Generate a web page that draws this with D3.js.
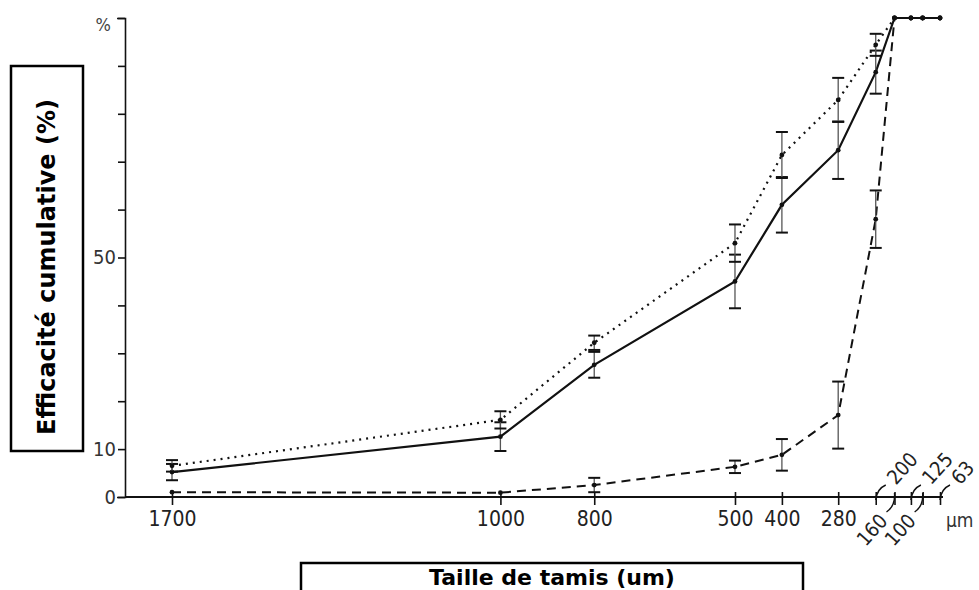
<!DOCTYPE html>
<html>
<head>
<meta charset="utf-8">
<script src="https://cdn.jsdelivr.net/npm/d3@7"></script>
<style>
  body { margin: 0; background: #fff; }
  svg { display: block; }
</style>
</head>
<body>
<div id="chart"></div>
<script>
// sieve sizes (um), left to right
const sizes = [1700, 1000, 800, 500, 400, 280, 200, 160, 125, 100, 63];
const flatLabels = [1700, 1000, 800, 500, 400, 280];
const upLabels = [200, 125, 63];
const downLabels = [160, 100];

// cumulative efficiency (%) and half error bars, three series
const solidVals = [5.2, 12.6, 27.6, 45.0, 61.0, 72.4, 88.7, 100, 100, 100, 100];
const solidErr  = [1.7, 3.0, 2.7, 5.6, 5.8, 6.0, 4.5, 0, 0, 0, 0];
const dottedVals = [6.5, 16.1, 32.2, 53.0, 71.4, 82.9, 94.4, 100, 100, 100, 100];
const dottedErr  = [1.2, 1.8, 1.5, 3.9, 4.8, 4.6, 2.3, 0, 0, 0, 0];
const dashedVals = [1.0, 0.9, 2.5, 6.3, 8.8, 17.1, 58.0, 100, 100, 100, 100];
const dashedErr  = [0, 0, 1.5, 1.3, 3.3, 7.0, 6.0, 0, 0, 0, 0];

const yTicks = [0, 10, 20, 30, 40, 50, 60, 70, 80, 90, 100];
const yLabelled = [0, 10, 50];

const W = 979, H = 590;
const axisFont = "'Liberation Sans Narrow', 'DejaVu Sans Condensed', sans-serif";
const ink = "#111";

const svg = d3.select("#chart")
  .append("svg")
    .attr("width", W)
    .attr("height", H);

const x = d3.scaleLinear().domain([1700, 63]).range([172, 940]);
const y = d3.scaleLinear().domain([0, 100]).range([497, 18]);
const x0 = 125; // y axis position

// y axis
const gy = svg.append("g")
  .attr("transform", "translate(" + x0 + ",0)")
  .call(d3.axisLeft(y).tickValues(yTicks).tickSize(7).tickSizeOuter(8)
    .tickFormat(d => yLabelled.includes(d) ? d : ""));
gy.select(".domain").attr("stroke", ink).attr("stroke-width", 1.6);
gy.selectAll(".tick line").attr("stroke", ink).attr("stroke-width", 1.6);
gy.selectAll(".tick text")
  .attr("font-family", axisFont).attr("font-size", 20).attr("fill", "#333").attr("x", -9);

svg.append("text")
  .attr("x", x0 - 14).attr("y", y(100) + 13)
  .attr("text-anchor", "end")
  .attr("font-family", axisFont).attr("font-size", 18).attr("fill", "#444")
  .text("%");

// x axis
svg.append("line")
  .attr("x1", x0).attr("x2", x(63) + 3)
  .attr("y1", y(0)).attr("y2", y(0))
  .attr("stroke", ink).attr("stroke-width", 1.8);

const gx = svg.append("g")
  .attr("transform", "translate(0," + y(0) + ")")
  .call(d3.axisBottom(x).tickValues(sizes).tickSize(8).tickSizeOuter(0)
    .tickFormat(d => flatLabels.includes(d) ? d : ""));
gx.select(".domain").remove();
gx.selectAll(".tick line").attr("stroke", ink).attr("stroke-width", 1.6).attr("y1", -5);
gx.selectAll(".tick text")
  .attr("font-family", axisFont).attr("font-size", 21).attr("fill", "#222").attr("y", 14);

// slanted labels for the small sieves
upLabels.forEach(s => {
  const tx = x(s), ty = y(0);
  svg.append("path")
    .attr("d", `M${tx},${ty + 3} Q${tx + 1},${ty - 8} ${tx + 10},${ty - 12}`)
    .attr("fill", "none").attr("stroke", ink).attr("stroke-width", 1.4);
  svg.append("text")
    .attr("transform", `translate(${tx + 15},${ty - 16}) rotate(-48)`)
    .attr("font-family", axisFont).attr("font-size", 20).attr("fill", "#222")
    .attr("dy", "0.35em")
    .text(s);
});
downLabels.forEach(s => {
  const tx = x(s), ty = y(0);
  svg.append("path")
    .attr("d", `M${tx},${ty - 4} Q${tx + 1},${ty + 9} ${tx - 8},${ty + 15}`)
    .attr("fill", "none").attr("stroke", ink).attr("stroke-width", 1.4);
  svg.append("text")
    .attr("transform", `translate(${tx - 11},${ty + 20}) rotate(-48)`)
    .attr("text-anchor", "end")
    .attr("font-family", axisFont).attr("font-size", 20).attr("fill", "#222")
    .attr("dy", "0.35em")
    .text(s);
});
svg.append("text")
  .attr("x", x(63) + 6).attr("y", y(0) + 30)
  .attr("font-family", axisFont).attr("font-size", 19).attr("fill", "#333")
  .text("µm");

// series
const series = [
  { vals: solidVals, err: solidErr, dash: null, width: 2.2 },
  { vals: dottedVals, err: dottedErr, dash: "2,5", width: 2.2 },
  { vals: dashedVals, err: dashedErr, dash: "9,6", width: 2 }
];

const line = d3.line()
  .x(d => x(d.s))
  .y(d => y(d.v));

series.forEach(sr => {
  const pts = sizes.map((s, i) => ({ s: s, v: sr.vals[i], e: sr.err[i] }));
  svg.append("path")
    .datum(pts)
    .attr("d", line)
    .attr("fill", "none")
    .attr("stroke", ink)
    .attr("stroke-width", sr.width)
    .attr("stroke-dasharray", sr.dash);

  const eb = svg.append("g")
    .selectAll("g")
    .data(pts.filter(d => d.e > 0))
    .enter().append("g");
  eb.append("line")
    .attr("x1", d => x(d.s)).attr("x2", d => x(d.s))
    .attr("y1", d => y(d.v - d.e)).attr("y2", d => y(d.v + d.e))
    .attr("stroke", "#555").attr("stroke-width", 1.3);
  eb.append("line")
    .attr("x1", d => x(d.s) - 6).attr("x2", d => x(d.s) + 6)
    .attr("y1", d => y(d.v + d.e)).attr("y2", d => y(d.v + d.e))
    .attr("stroke", ink).attr("stroke-width", 2);
  eb.append("line")
    .attr("x1", d => x(d.s) - 6).attr("x2", d => x(d.s) + 6)
    .attr("y1", d => y(d.v - d.e)).attr("y2", d => y(d.v - d.e))
    .attr("stroke", ink).attr("stroke-width", 2);

  svg.append("g")
    .selectAll("circle")
    .data(pts)
    .enter().append("circle")
      .attr("cx", d => x(d.s))
      .attr("cy", d => y(d.v))
      .attr("r", 2.4)
      .attr("fill", ink);
});

// axis title boxes
svg.append("rect")
  .attr("x", 11).attr("y", 66).attr("width", 72).attr("height", 385)
  .attr("fill", "#fff").attr("stroke", "#000").attr("stroke-width", 2.5);
svg.append("text")
  .attr("transform", "translate(47,267) rotate(-90)")
  .attr("text-anchor", "middle").attr("dy", "0.35em")
  .attr("font-family", "'DejaVu Sans', Verdana, sans-serif")
  .attr("font-weight", "bold").attr("font-size", 24)
  .text("Efficacité cumulative (%)");

svg.append("rect")
  .attr("x", 301).attr("y", 563).attr("width", 502).attr("height", 40)
  .attr("fill", "#fff").attr("stroke", "#000").attr("stroke-width", 2.5);
svg.append("text")
  .attr("x", 552).attr("y", 577)
  .attr("text-anchor", "middle").attr("dy", "0.35em")
  .attr("font-family", "'DejaVu Sans', Verdana, sans-serif")
  .attr("font-weight", "bold").attr("font-size", 22)
  .text("Taille de tamis (um)");
</script>
</body>
</html>
